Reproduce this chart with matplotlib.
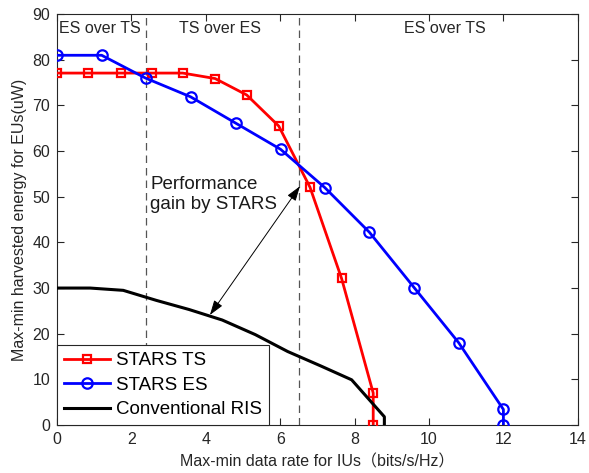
import numpy as np
import matplotlib.pyplot as plt

plt.rcParams['font.family'] = ['Liberation Sans', 'Noto Sans CJK SC', 'DejaVu Sans']

# STARS with time switching
ts_rate = [0, 0.84, 1.71, 2.54, 3.38, 4.25, 5.1, 5.96, 6.8, 7.65, 8.5, 8.5]
ts_energy = [77.1, 77.1, 77.1, 77.1, 77.1, 75.9, 72.3, 65.5, 52.1, 32.1, 7.0, 0]

# STARS with energy splitting
es_rate = [0, 1.2, 2.38, 3.59, 4.81, 6.01, 7.2, 8.4, 9.6, 10.8, 12.0, 12.0]
es_energy = [81.0, 81.0, 76.0, 71.9, 66.1, 60.4, 52.0, 42.2, 30.1, 18.0, 3.4, 0]

# conventional RIS
ris_rate = [0, 0.89, 1.78, 2.67, 3.55, 4.44, 5.33, 6.2, 7.1, 7.92, 8.8, 8.8]
ris_energy = [30.0, 30.0, 29.5, 27.3, 25.3, 23.0, 19.8, 16.1, 12.9, 9.9, 1.8, 0]

# region borders and labels
borders = [2.4, 6.5]
region_x = [1.16, 4.38, 10.43]
region_names = ['ES over TS', 'TS over ES', 'ES over TS']

fig = plt.figure(figsize=(5.89, 4.73), dpi=100)
ax = fig.add_axes([0.0968, 0.1015, 0.8842, 0.8685])

axc = '#262626'
for b in borders:
    ax.axvline(b, color='#555555', ls=(0, (6, 4)), lw=0.9, zorder=1)

ax.plot(ts_rate, ts_energy, color='red', lw=2, marker='s', ms=6,
        mfc='none', mew=1.6, label='STARS TS', zorder=3)
ax.plot(es_rate, es_energy, color='blue', lw=2, marker='o', ms=7.5,
        mfc='none', mew=1.6, label='STARS ES', zorder=3)
ax.plot(ris_rate, ris_energy, color='black', lw=2.2, label='Conventional RIS', zorder=3)

for xr, name in zip(region_x, region_names):
    ax.text(xr, 86.9, name, ha='center', va='center', fontsize=11.5, color=axc)

ax.annotate('', xy=(6.53, 52.3), xytext=(4.11, 24.1),
            arrowprops=dict(arrowstyle='<|-|>,head_length=0.9,head_width=0.3',
                            color='black', lw=0.7, shrinkA=0, shrinkB=0),
            zorder=4)
ax.text(2.5, 50.5, 'Performance\ngain by STARS', ha='left', va='center',
        fontsize=13.5, color='#1a1a1a', linespacing=1.25)

ax.set_xlim(0, 14)
ax.set_ylim(0, 90)
ax.set_xticks(np.arange(0, 15, 2))
ax.set_yticks(np.arange(0, 91, 10))
ax.tick_params(direction='in', top=True, right=True, labelsize=11.5,
               colors=axc, length=5, width=0.8, pad=5)
for s in ax.spines.values():
    s.set_color(axc)
    s.set_linewidth(0.8)

ax.set_xlabel('Max-min data rate for IUs（bits/s/Hz）', fontsize=11.5, color=axc, labelpad=5)
ax.set_ylabel('Max-min harvested energy for EUs(uW)', fontsize=11.5, color=axc, labelpad=4)

leg = ax.legend(loc='lower left', bbox_to_anchor=(0, 0), borderaxespad=0,
                fontsize=13.5, fancybox=False, framealpha=1, handlelength=2.5,
                handletextpad=0.3, labelspacing=0.4, borderpad=0.35)
leg.get_frame().set_edgecolor(axc)
leg.get_frame().set_linewidth(0.8)

fig.savefig('out.png', dpi=100)
